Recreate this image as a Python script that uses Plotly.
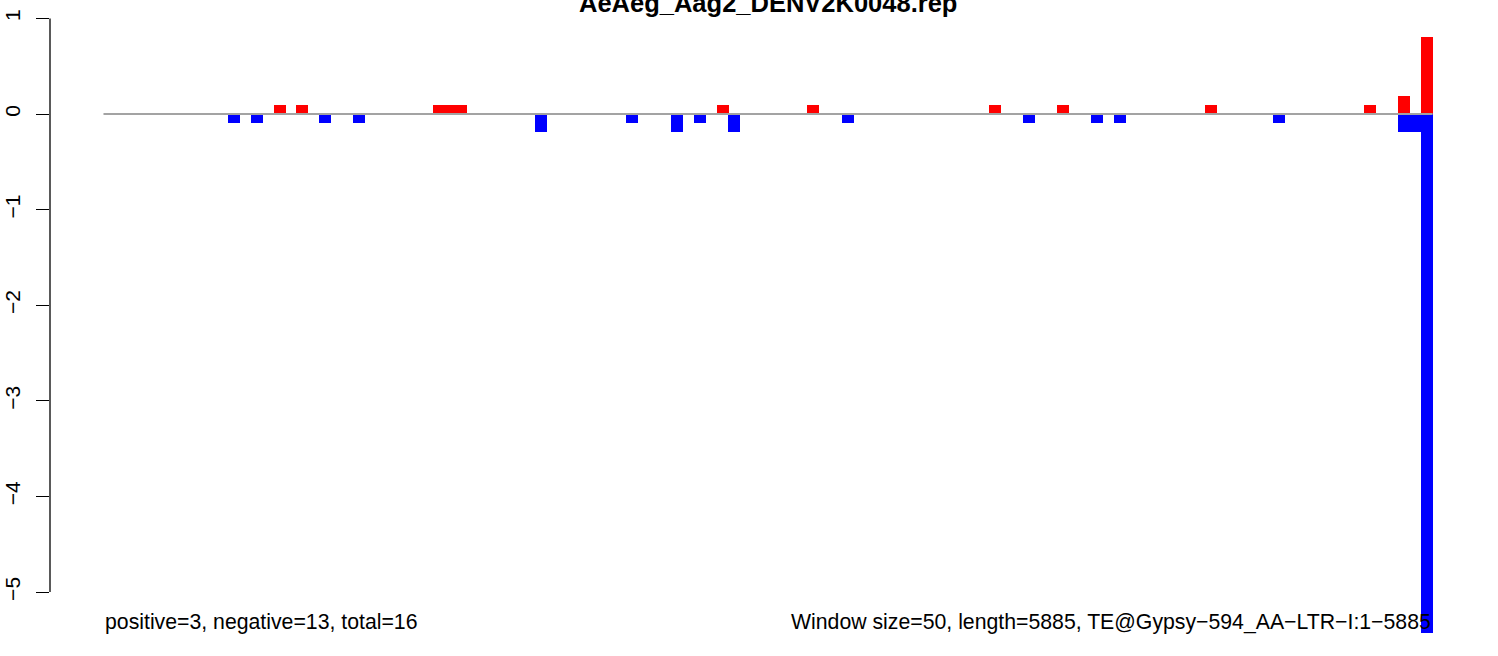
import plotly.graph_objects as go

# ---- data ----
title_text = "AeAeg_Aag2_DENV2K0048.rep"
window_size = 50
seq_length = 5885

# window index (0-based) and normalised signal for each strand
pos_windows = [15, 17, 29, 30, 31, 54, 62, 78, 84, 97, 111, 114, 116]
pos_values = [0.0926, 0.0926, 0.0926, 0.0926, 0.0926, 0.0926, 0.0926,
              0.0926, 0.0926, 0.0926, 0.0926, 0.185, 0.805]

neg_windows = [11, 13, 19, 22, 38, 46, 50, 52, 55, 65, 81, 87, 89, 103, 114, 115, 116]
neg_values = [-0.0926, -0.0926, -0.0926, -0.0926, -0.185, -0.0926, -0.185,
              -0.0926, -0.185, -0.0926, -0.0926, -0.0926, -0.0926, -0.0926,
              -0.185, -0.185, -5.43]

y_ticks = [-5, -4, -3, -2, -1, 0, 1]
y_tick_labels = ["\u22125", "\u22124", "\u22123", "\u22122", "\u22121", "0", "1"]

left_note = "positive=3, negative=13, total=16"
right_note = "Window size=50, length=5885, TE@Gypsy\u2212594_AA\u2212LTR\u2212I:1\u22125885"

# ---- derived positions (window centres in bp) ----
pos_x = [j * window_size + window_size / 2 for j in pos_windows]
neg_x = [j * window_size + window_size / 2 for j in neg_windows]
last_start = (len(range(0, seq_length, window_size)) - 1) * window_size

FONT = "Liberation Sans, Arial, Helvetica, sans-serif"
bar_w = 52.8  # bp (about 12 px)

fig = go.Figure()

# baseline
fig.add_trace(go.Scatter(x=[0, last_start], y=[0, 0], mode="lines",
                         line=dict(color="#A3A3A3", width=2),
                         hoverinfo="skip", showlegend=False))

fig.add_trace(go.Bar(x=pos_x, y=pos_values, width=bar_w,
                     marker=dict(color="#FF0000", line=dict(width=0)),
                     showlegend=False))
fig.add_trace(go.Bar(x=neg_x, y=neg_values, width=bar_w,
                     marker=dict(color="#0000FF", line=dict(width=0)),
                     showlegend=False))

ext = 0.04 * seq_length
fig.update_layout(
    width=1498, height=656,
    margin=dict(l=50, r=4, t=0, b=0, pad=0),
    paper_bgcolor="white", plot_bgcolor="white",
    barmode="overlay", bargap=0,
    font=dict(family=FONT, color="black", size=21),
    xaxis=dict(range=[-ext, seq_length + ext], visible=False, fixedrange=True),
    yaxis=dict(range=[-5.669, 1.1925], tickmode="array", tickvals=y_ticks,
               ticktext=y_tick_labels, tickangle=-90, ticks="outside",
               ticklen=13, tickwidth=1.3, tickcolor="black",
               ticklabelstandoff=8,
               showgrid=False, zeroline=False, showline=False,
               tickfont=dict(size=21, family=FONT, color="black"),
               automargin=False, fixedrange=True),
    shapes=[dict(type="line", xref="paper", yref="y", x0=0, x1=0,
                 y0=y_ticks[0], y1=y_ticks[-1],
                 line=dict(color="black", width=1.3))],
    annotations=[
        dict(text="<b>" + title_text + "</b>", xref="paper", yref="paper",
             x=0.497, y=1, xanchor="center", yanchor="top", yshift=13,
             showarrow=False, font=dict(size=25.5, family=FONT, color="black")),
        dict(text=left_note, xref="x", yref="y", x=0, y=-5.31,
             xanchor="left", yanchor="middle", showarrow=False,
             font=dict(size=21.25, family=FONT, color="black")),
        dict(text=right_note, xref="x", yref="y", x=last_start, y=-5.31,
             xanchor="right", yanchor="middle", showarrow=False,
             font=dict(size=21.25, family=FONT, color="black")),
    ],
)

fig.write_html("out.html", config={"displayModeBar": False},
               post_script="document.body.style.margin='0';")
